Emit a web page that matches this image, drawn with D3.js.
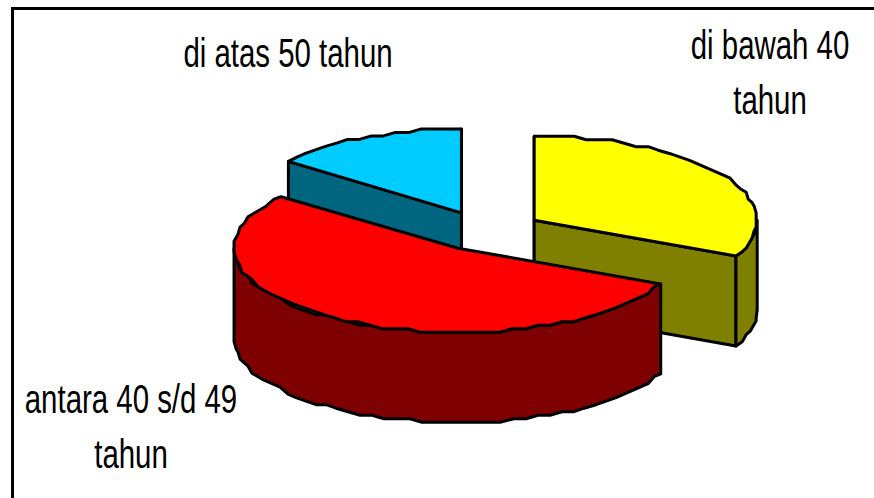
<!DOCTYPE html>
<html>
<head>
<meta charset="utf-8">
<script src="https://cdn.jsdelivr.net/npm/d3@7"></script>
<style>
  html, body { margin: 0; background: #fff; }
  svg { display: block; }
  text { font-family: "Liberation Sans", Arial, sans-serif; font-size: 40px; fill: #000; }
</style>
</head>
<body>
<svg id="chart" width="874" height="498"></svg>
<script>
const categories = ['di bawah 40 tahun', 'antara 40 s/d 49 tahun', 'di atas 50 tahun'];
const shares = [32, 53.5, 14.5];
const topColors = ['#ffff00', '#ff0000', '#00ccff'];
const sideColors = ['#808000', '#7f0000', '#006680'];

const W = 874, H = 498;
const radiiX = [223, 224, 219];
const ry = 84, depth = 90;
const cx = 489, cy = 231;
const explode = 0.24;
const squeeze = 0.735;
// the picture's slices are not pulled quite evenly
const nudgeX = [0, -3, -4];

// label lines are wrapped like the original, [centre x, first baseline]
const labelLines = [['di bawah 40', 'tahun'], ['antara 40 s/d 49', 'tahun'], ['di atas 50 tahun']];
const labelAnchors = [[770, 59], [131, 413], [288, 67]];
const lineGap = 55;

const svg = d3.select('#chart');

// frame only has top and left sides, the rest runs off the picture
svg.append('path')
  .attr('d', `M12.5 ${H} V8.5 H${W}`)
  .attr('fill', 'none').attr('stroke', '#000').attr('stroke-width', 3);

const arcs = d3.pie().sort(null).value((d, i) => shares[i])(categories);

// the original outline is a coarse polyline, so snap the rim to steps
const snap = (v, s) => Math.round(v / s) * s;

function rimPoints(a0, a1, ox, oy, rx) {
  const n = Math.max(2, Math.round(Math.abs(a1 - a0) / (3.4 * Math.PI / 180)));
  return d3.range(n + 1).map(i => {
    const a = a0 + (a1 - a0) * i / n;
    const edge = i === 0 || i === n;
    const x = rx * Math.sin(a), y = -ry * Math.cos(a);
    return [ox + (edge ? x : snap(x, 2)), oy + (edge ? y : snap(y, 3.5))];
  });
}

const line = d3.line();

function shape(pts, fill, width) {
  svg.append('path')
    .attr('d', line(pts) + 'Z')
    .attr('fill', fill)
    .attr('stroke', '#000')
    .attr('stroke-width', width)
    .attr('stroke-linejoin', 'round');
}

const down = p => [p[0], p[1] + depth];

function drawSlice(s) {
  const mid = (s.startAngle + s.endAngle) / 2;
  const rx = radiiX[s.index];
  const ox = cx + 223 * explode * Math.sin(mid) + nudgeX[s.index];
  const oy = cy - ry * explode * Math.cos(mid);
  const apex = [ox, oy];
  const rim = rimPoints(s.startAngle, s.endAngle, ox, oy, rx);

  // walls from the centre; red's are hidden behind its own top and rim
  if (s.index !== 1) {
    [rim[0], rim[rim.length - 1]].forEach(p => {
      shape([apex, p, down(p), down(apex)], sideColors[s.index], 3);
    });
  }

  // outer rim, front half only
  const from = Math.max(s.startAngle, Math.PI / 2);
  const to = Math.min(s.endAngle, 3 * Math.PI / 2);
  if (to > from) {
    const front = rimPoints(from, to, ox, oy, rx);
    shape(front.concat(front.map(down).reverse()), sideColors[s.index], 3);
  }

  shape([apex].concat(rim), topColors[s.index], 3);
}

// paint back to front: cyan, yellow, then red over both
[arcs[2], arcs[0], arcs[1]].forEach(drawSlice);

labelLines.forEach((lines, i) => {
  const [x, y] = labelAnchors[i];
  lines.forEach((t, j) => {
    svg.append('text')
      .attr('text-anchor', 'middle')
      .attr('transform', `translate(${x},${y + j * lineGap}) scale(${squeeze},1)`)
      .text(t);
  });
});
</script>
</body>
</html>
